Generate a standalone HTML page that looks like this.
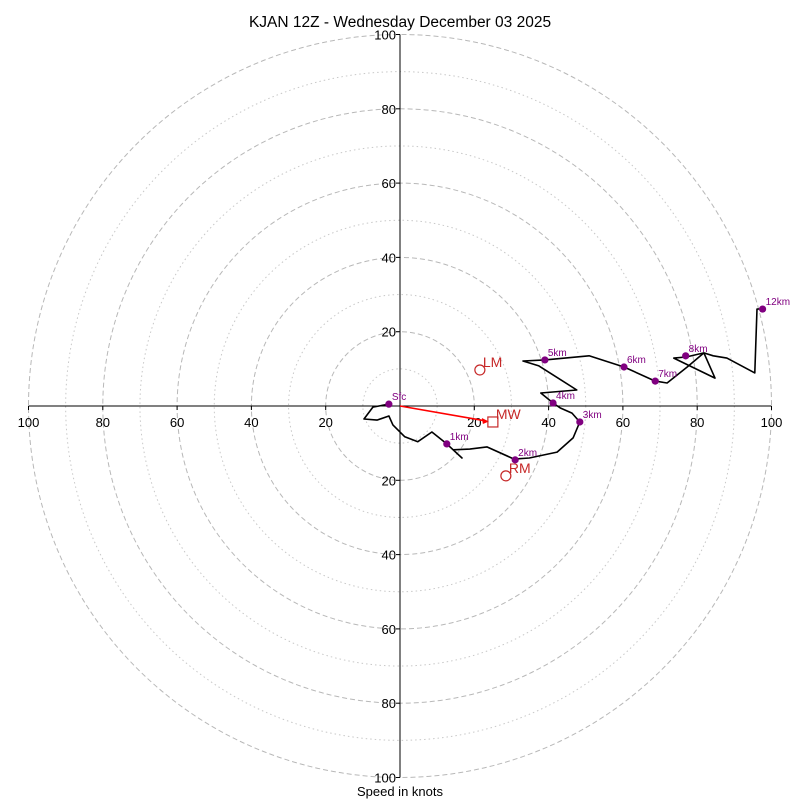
<!DOCTYPE html>
<html><head><meta charset="utf-8"><style>
body{margin:0;background:#fff}
svg{display:block;font-family:"Liberation Sans","DejaVu Sans",sans-serif}
</style></head><body>
<svg id="c" width="800" height="800" viewBox="0 0 800 800">
<rect width="800" height="800" fill="#fff"/>
<text x="400" y="27" text-anchor="middle" font-size="15.5">KJAN 12Z - Wednesday December 03 2025</text>
<text x="400" y="796" text-anchor="middle" font-size="13">Speed in knots</text>
<g id="grid"></g><g id="axes"></g><g id="trace"></g><g id="marks"></g>
</svg>
<script>
const ringsMajor=[20,40,60,80,100];
const ringsMinor=[10,30,50,70,90];
const tickLabels=[20,40,60,80,100];
// wind trace in knots (u east, v north)
const traceU=[-3,-7.3,-9.7,-6.2,-3,-1.9,1.3,4.8,8.6,12.6,16.7,14.3,18.8,23.4,30.7,34.8,42.3,46.6,48.4,46.3,43.1,41.2,37.9,47.6,37.4,33.1,39,50.9,60.3,68.7,71.9,77.3,81.8,84.8,73.7,77,81.8,84.3,88,95.5,96.1,97.2];
const traceV=[0.5,-0.3,-3.5,-3.8,-2.7,-5.1,-8.3,-9.6,-7,-10.2,-14,-11.8,-11.6,-11,-14.3,-14,-12.4,-8.6,-4.3,-1.9,-0.5,0.8,3.5,4.3,10.8,12.1,12.4,13.5,10.5,6.7,6.2,10.5,14.3,7.5,12.9,13.2,14.3,13.5,12.9,8.9,26.1,26.1];
const levelNames=["Sfc","1km","2km","3km","4km","5km","6km","7km","8km","12km"];
const levelU=[-3,12.6,31,48.4,41.2,39,60.3,68.7,76.9,97.6];
const levelV=[0.5,-10.2,-14.5,-4.3,0.8,12.4,10.5,6.7,13.5,26.1];
const motionNames=["LM","MW","RM"];
const motionU=[21.5,25,28.5];
const motionV=[9.7,-4.3,-18.8];
const cx=400,cy=406,k=3.715;
const X=u=>cx+u*k, Y=v=>cy-v*k;
const NS="http://www.w3.org/2000/svg";
function mk(t,a,p){const e=document.createElementNS(NS,t);for(const n in a)e.setAttribute(n,a[n]);p.appendChild(e);return e;}
const grid=document.getElementById('grid'),axes=document.getElementById('axes'),tr=document.getElementById('trace'),mg=document.getElementById('marks');
ringsMinor.forEach(r=>{const e=mk('circle',{cx:cx,cy:cy,r:r*k,fill:'none',stroke:'#c8c8c8','stroke-dasharray':'1.5 3','stroke-width':1},grid);

});
ringsMajor.forEach(r=>{const e=mk('circle',{cx:cx,cy:cy,r:r*k,fill:'none',stroke:'#b8b8b8','stroke-dasharray':'5 3','stroke-width':1},grid);

});
let l=mk('line',{x1:X(-100),y1:cy,x2:X(100),y2:cy,stroke:'#000','stroke-width':1},axes);


l=mk('line',{x1:cx,y1:Y(100),x2:cx,y2:Y(-100),stroke:'#000','stroke-width':1},axes);


tickLabels.forEach(t=>{
 [1,-1].forEach(s=>{
  let e=mk('text',{x:X(s*t),y:cy+21,'text-anchor':'middle','font-size':13},axes);e.textContent=t;
  
  
  e=mk('text',{x:cx-4,y:Y(s*t)+5,'text-anchor':'end','font-size':13},axes);e.textContent=t;
  
  
  mk('line',{x1:X(s*t),y1:cy,x2:X(s*t),y2:cy+4,stroke:'#000'},axes);
  mk('line',{x1:cx-4,y1:Y(s*t),x2:cx,y2:Y(s*t),stroke:'#000'},axes);
 });
});
let pts=traceU.map((u,i)=>X(u).toFixed(1)+','+Y(traceV[i]).toFixed(1)).join(' ');
const pl=mk('polyline',{points:pts,fill:'none',stroke:'#000','stroke-width':1.6,'stroke-linejoin':'round'},tr);


levelNames.forEach((n,i)=>{
 const c=mk('circle',{cx:X(levelU[i]),cy:Y(levelV[i]),r:3.6,fill:'#800080'},mg);
 
 
 const t=mk('text',{x:X(levelU[i])+3,y:Y(levelV[i])-4,'font-size':10,fill:'#800080'},mg);t.textContent=n;
 
 
});
const ar=mk('line',{x1:cx,y1:cy,x2:X(motionU[1])-7,y2:Y(motionV[1])-1,stroke:'#f00','stroke-width':1.6},mg);


mk('polygon',{points:(X(motionU[1])-4)+','+(Y(motionV[1])-0.5)+' '+(X(motionU[1])-11)+','+(Y(motionV[1])-4)+' '+(X(motionU[1])-10)+','+(Y(motionV[1])+2),fill:'#f00'},mg);
motionNames.forEach((n,i)=>{
 const x=X(motionU[i]),y=Y(motionV[i]);
 let s;
 if(n==='MW') s=mk('rect',{x:x-5,y:y-5,width:10,height:10,fill:'none',stroke:'#c62828','stroke-width':1.2},mg);
 else s=mk('circle',{cx:x,cy:y,r:5,fill:'none',stroke:'#c62828','stroke-width':1.2},mg);
 
 
 const t=mk('text',{x:x+3,y:y-3,'font-size':14,fill:'#c62828'},mg);t.textContent=n;
 
 
});
</script>
</body></html>
